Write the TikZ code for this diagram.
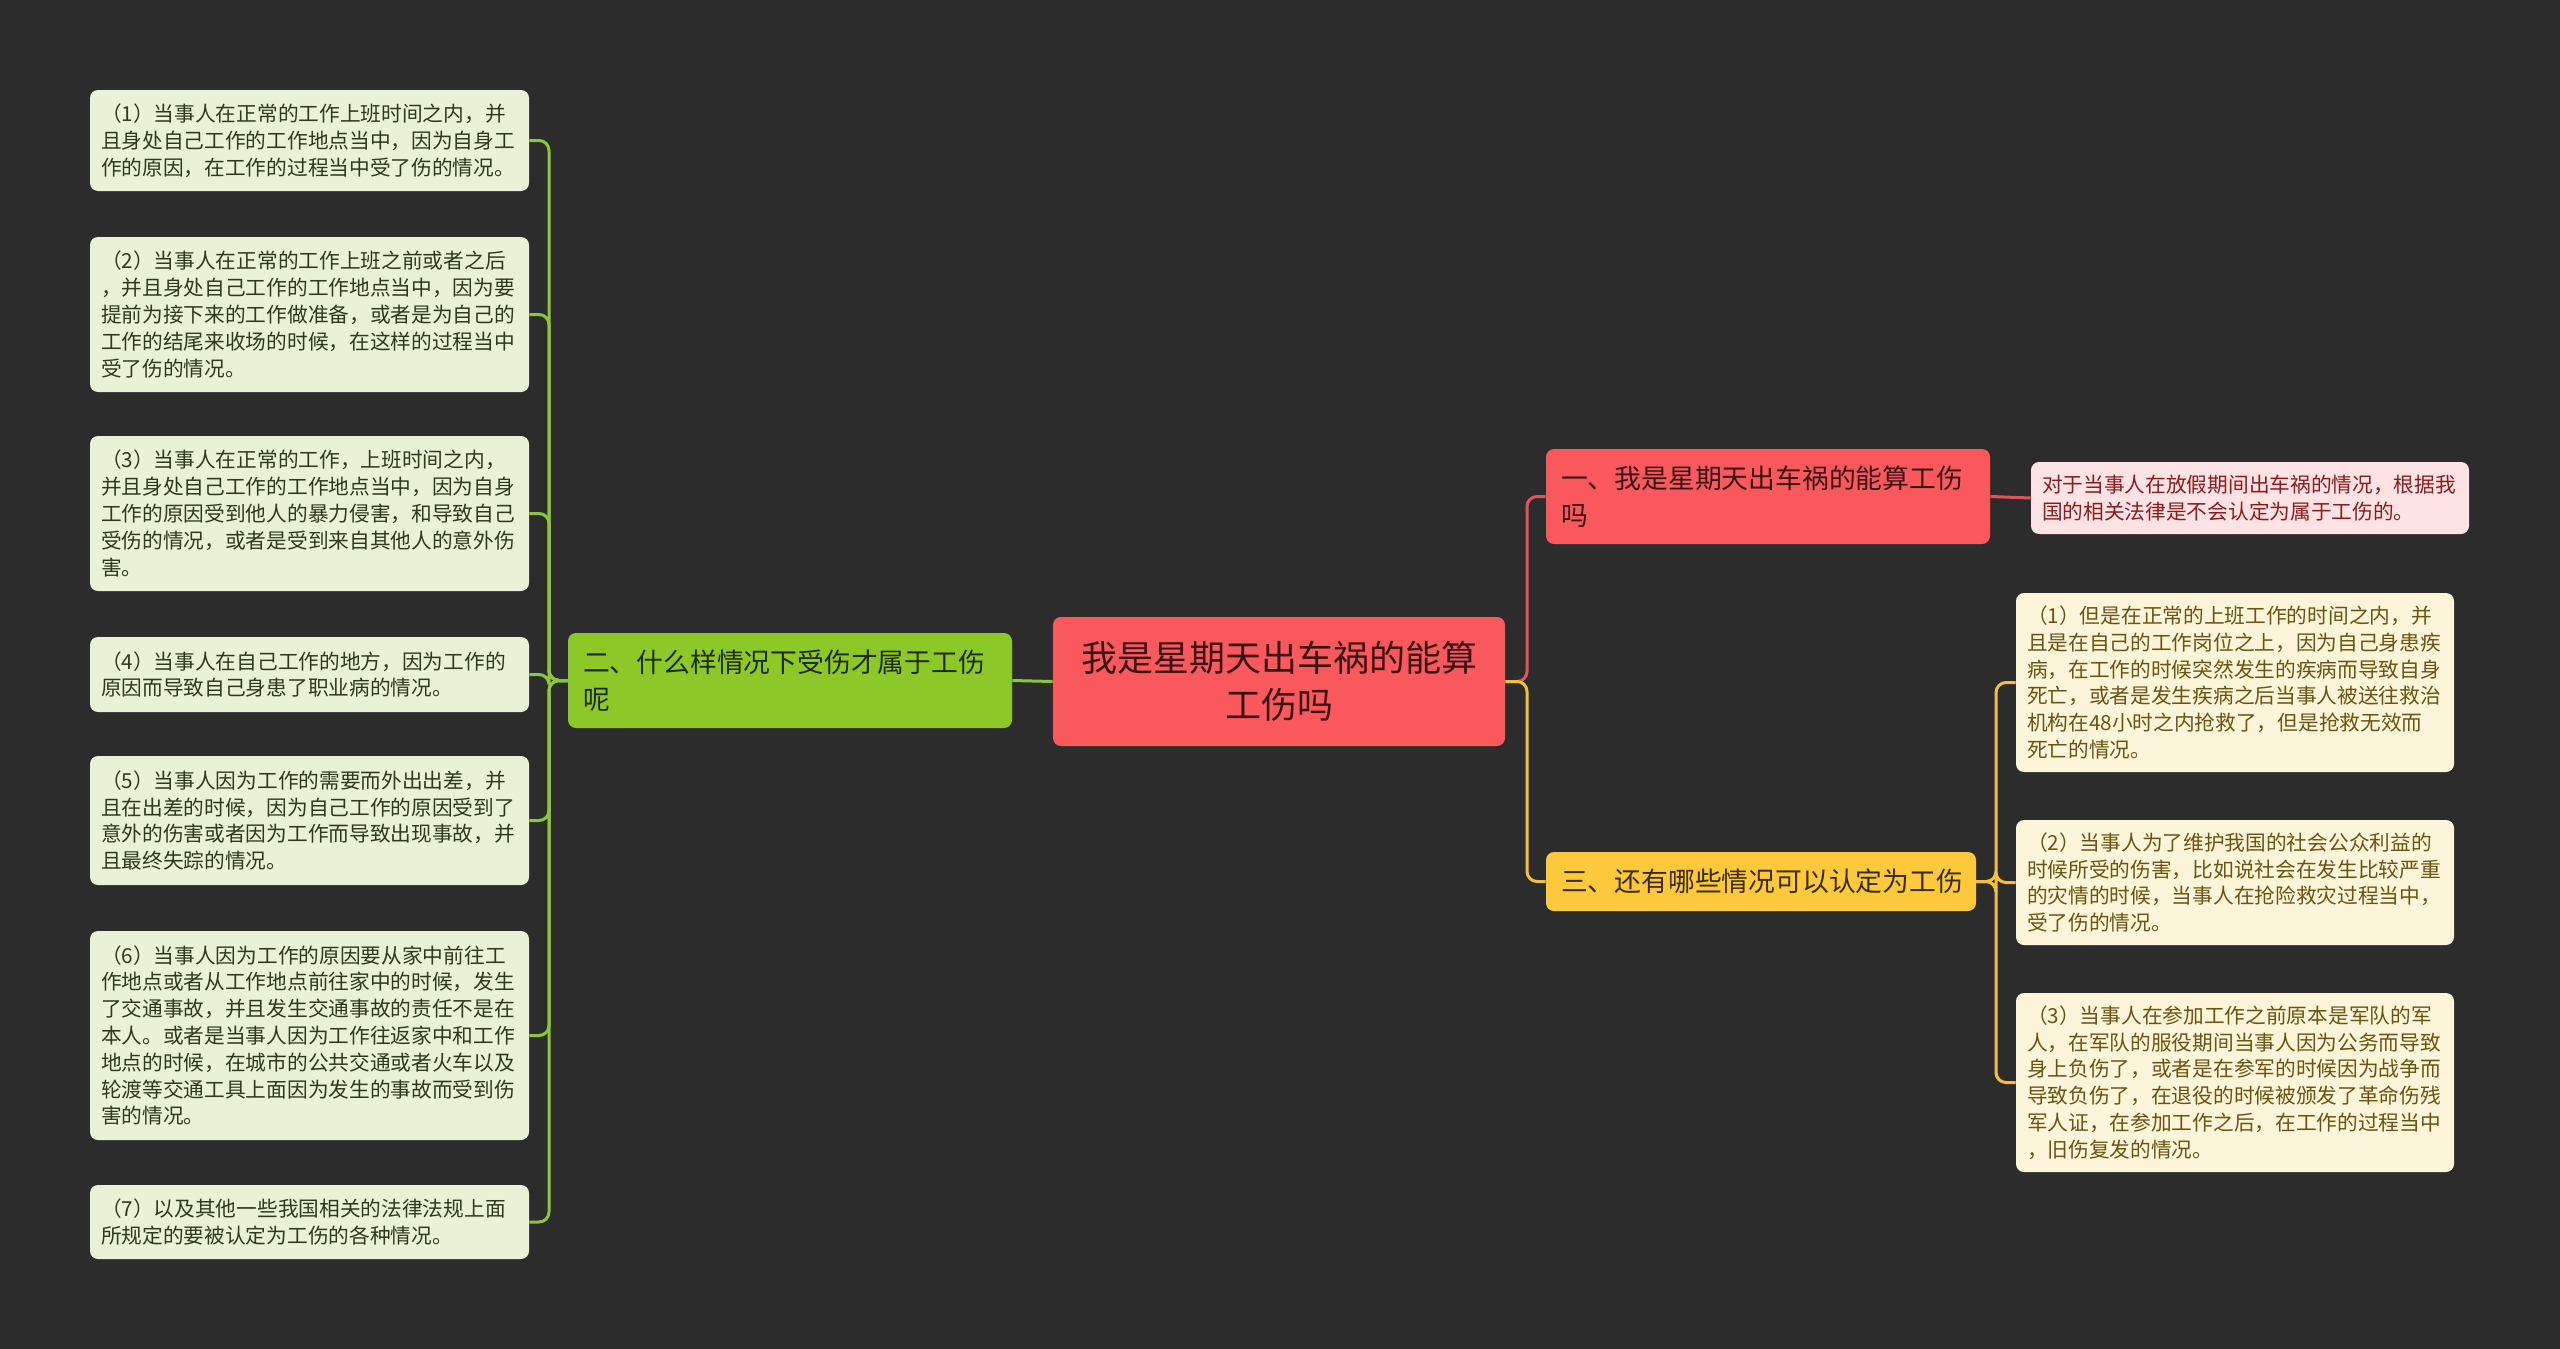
\documentclass[tikz,border=0pt]{standalone}
\usepackage{fontspec}
\setmainfont{Noto Sans CJK SC}
\definecolor{bg}{HTML}{2C2C2C}
\definecolor{rootfill}{HTML}{F9585D}
\definecolor{roottext}{HTML}{3A1414}
\definecolor{gfill}{HTML}{8CC928}
\definecolor{gtext}{HTML}{1E2A08}
\definecolor{gleaf}{HTML}{E9F2D6}
\definecolor{gleaftext}{HTML}{2E3A1C}
\definecolor{gline}{HTML}{8CC63A}
\definecolor{rline}{HTML}{E25459}
\definecolor{pfill}{HTML}{FDE3E4}
\definecolor{ptext}{HTML}{8A1C1E}
\definecolor{yfill}{HTML}{FCC93C}
\definecolor{ytext}{HTML}{3A2C06}
\definecolor{yleaf}{HTML}{FDF5D9}
\definecolor{yleaftext}{HTML}{6B5412}
\definecolor{yline}{HTML}{F2C03E}
\tikzset{
  box/.style={rectangle, rounded corners=4pt, inner sep=0pt},
  rootbox/.style={box, fill=rootfill, text=roottext, minimum width=226pt, text width=210pt, align=center, font=\fontsize{18pt}{23.5pt}\selectfont},
  branch/.style={box, fill=#1, minimum width=222pt, text width=207pt, align=left, font=\fontsize{13.4pt}{18.75pt}\selectfont},
  leafL/.style={box, fill=gleaf, text=gleaftext, minimum width=219.5pt, text width=208.5pt, align=left, font=\fontsize{10.35pt}{13.4pt}\selectfont},
  leafR/.style={box, fill=yleaf, text=yleaftext, minimum width=219pt, text width=208pt, align=left, font=\fontsize{10.35pt}{13.4pt}\selectfont},
  conn/.style={line width=1.5pt, rounded corners=5pt}
}
\begin{document}
\begin{tikzpicture}[x=0.5pt,y=-0.5pt]
\fill[bg] (0,0) rectangle (2560,1349);
\useasboundingbox (0,0) rectangle (2560,1349);

% root
\node[rootbox, minimum height=64.5pt] (root) at (1279,681.5) {我是星期天出车祸的能算\\工伤吗};

% branches
\node[branch=gfill, text=gtext, minimum height=47.5pt] (b2) at (790,680.5) {二、什么样情况下受伤才属于工伤\\呢};
\node[branch=rootfill, text=roottext, minimum height=47.5pt] (b1) at (1768,496.5) {一、我是星期天出车祸的能算工伤\\吗};
\node[branch=yfill, text=ytext, minimum width=215pt, text width=200pt, minimum height=29.5pt] (b3) at (1761,881.5) {三、还有哪些情况可以认定为工伤};

% pink leaf
\node[box, fill=pfill, text=ptext, minimum width=219pt, text width=208pt, align=left, font=\fontsize{10.35pt}{13.4pt}\selectfont, minimum height=36pt] (p) at (2250,498) {对于当事人在放假期间出车祸的情况，根据我\\国的相关法律是不会认定为属于工伤的。};

% left leaves
\node[leafL, minimum height=50.5pt] (l1) at (309.5,140.5) {（1）当事人在正常的工作上班时间之内，并\\且身处自己工作的工作地点当中，因为自身工\\作的原因，在工作的过程当中受了伤的情况。};
\node[leafL, minimum height=77.5pt] (l2) at (309.5,314.5) {（2）当事人在正常的工作上班之前或者之后\\，并且身处自己工作的工作地点当中，因为要\\提前为接下来的工作做准备，或者是为自己的\\工作的结尾来收场的时候，在这样的过程当中\\受了伤的情况。};
\node[leafL, minimum height=77.5pt] (l3) at (309.5,513.5) {（3）当事人在正常的工作，上班时间之内，\\并且身处自己工作的工作地点当中，因为自身\\工作的原因受到他人的暴力侵害，和导致自己\\受伤的情况，或者是受到来自其他人的意外伤\\害。};
\node[leafL, minimum height=37.5pt] (l4) at (309.5,674.5) {（4）当事人在自己工作的地方，因为工作的\\原因而导致自己身患了职业病的情况。};
\node[leafL, minimum height=64.5pt] (l5) at (309.5,820.5) {（5）当事人因为工作的需要而外出出差，并\\且在出差的时候，因为自己工作的原因受到了\\意外的伤害或者因为工作而导致出现事故，并\\且最终失踪的情况。};
\node[leafL, minimum height=104.5pt] (l6) at (309.5,1035.5) {（6）当事人因为工作的原因要从家中前往工\\作地点或者从工作地点前往家中的时候，发生\\了交通事故，并且发生交通事故的责任不是在\\本人。或者是当事人因为工作往返家中和工作\\地点的时候，在城市的公共交通或者火车以及\\轮渡等交通工具上面因为发生的事故而受到伤\\害的情况。};
\node[leafL, minimum height=37pt] (l7) at (309.5,1222) {（7）以及其他一些我国相关的法律法规上面\\所规定的要被认定为工伤的各种情况。};

% right leaves
\node[leafR, minimum height=89.5pt] (r1) at (2235,682.5) {（1）但是在正常的上班工作的时间之内，并\\且是在自己的工作岗位之上，因为自己身患疾\\病，在工作的时候突然发生的疾病而导致自身\\死亡，或者是发生疾病之后当事人被送往救治\\机构在48小时之内抢救了，但是抢救无效而\\死亡的情况。};
\node[leafR, minimum height=62.5pt] (r2) at (2235,882.5) {（2）当事人为了维护我国的社会公众利益的\\时候所受的伤害，比如说社会在发生比较严重\\的灾情的时候，当事人在抢险救灾过程当中，\\受了伤的情况。};
\node[leafR, minimum height=89.5pt] (r3) at (2235,1082.5) {（3）当事人在参加工作之前原本是军队的军\\人，在军队的服役期间当事人因为公务而导致\\身上负伤了，或者是在参军的时候因为战争而\\导致负伤了，在退役的时候被颁发了革命伤残\\军人证，在参加工作之后，在工作的过程当中\\，旧伤复发的情况。};

% junction points
\coordinate (lj) at (549,680.5);
\coordinate (rj) at (1527,681.5);
\coordinate (yj) at (1996,881.5);

% connectors
\draw[conn, gline] (root.west) -- (b2.east);
\foreach \n in {l1,l2,l3,l4,l5,l6,l7}{
  \draw[conn, gline] (b2.west) -- (lj) |- (\n.east);
}
\draw[conn, rline] (root.east) -- (rj) |- (b1.west);
\draw[conn, yline] (root.east) -- (rj) |- (b3.west);
\draw[conn, rline] (b1.east) -- (p.west);
\foreach \n in {r1,r2,r3}{
  \draw[conn, yline] (b3.east) -- (yj) |- (\n.west);
}
\end{tikzpicture}
\end{document}
